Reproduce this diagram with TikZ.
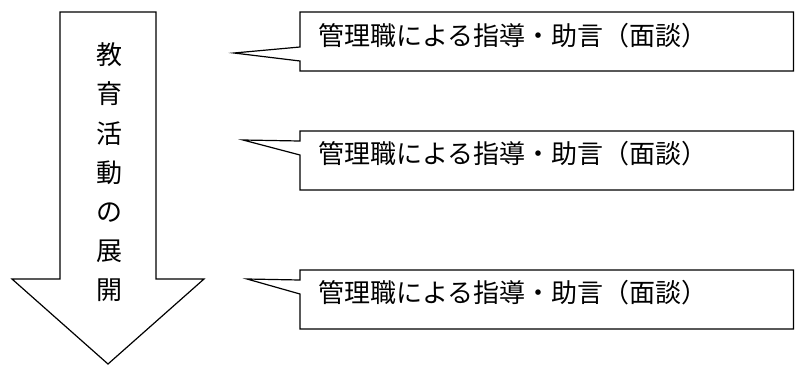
\documentclass[tikz,border=0pt]{standalone}
\usepackage{fontspec}
\newfontfamily\cjk{Noto Sans CJK JP}
\tikzset{
  shapeline/.style={draw=black, line width=1.2pt, line join=miter, fill=white},
  calltext/.style={anchor=west, inner sep=0pt, font=\cjk\fontsize{26}{30}\selectfont},
  verttext/.style={inner sep=0pt, align=center, font=\cjk\fontsize{26}{39.2}\selectfont}
}
\begin{document}
\begin{tikzpicture}[x=1pt,y=-1pt]
\useasboundingbox (0,0) rectangle (795,365);
% big down arrow
\draw[shapeline] (60,12) -- (156,12) -- (156,279) -- (204,279) -- (108,364) -- (12,279) -- (60,279) -- cycle;
\node[verttext] (v) at (109,172.5) {教\\育\\活\\動\\の\\展\\開};
% callouts
\draw[shapeline] (300,12) -- (793.5,12) -- (793.5,71) -- (300,71) -- (300,61) -- (234,53) -- (300,47) -- cycle;
\node[calltext] (c1) at (318,36) {管理職による指導・助言（面談）};
\draw[shapeline] (300,131) -- (793.5,131) -- (793.5,190) -- (300,190) -- (300,155) -- (243,140) -- (300,141) -- cycle;
\node[calltext] (c2) at (318,154) {管理職による指導・助言（面談）};
\draw[shapeline] (300,270) -- (793.5,270) -- (793.5,329) -- (300,329) -- (300,294) -- (247,279) -- (300,280) -- cycle;
\node[calltext] (c3) at (318,293) {管理職による指導・助言（面談）};
\end{tikzpicture}
\end{document}
